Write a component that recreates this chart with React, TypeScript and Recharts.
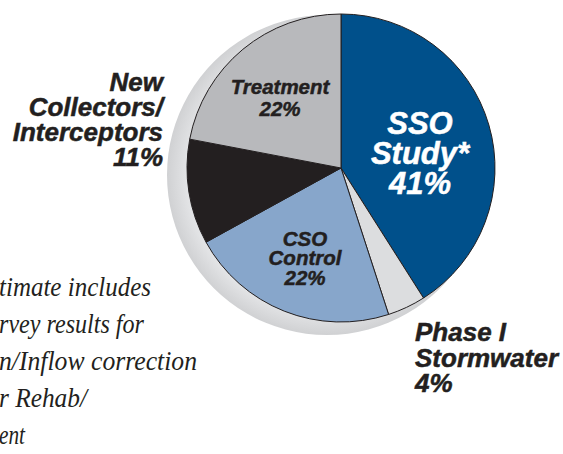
import React from "react";
import { PieChart, Pie, Cell } from "recharts";

const categories = [
  "SSO Study*",
  "Phase I Stormwater",
  "CSO Control",
  "New Collectors/Interceptors",
  "Treatment",
];
const shares = [41, 4, 22, 11, 22];
const labelLines = [
  ["SSO", "Study*", "41%"],
  ["Phase I", "Stormwater", "4%"],
  ["CSO", "Control", "22%"],
  ["New", "Collectors/", "Interceptors", "11%"],
  ["Treatment", "22%"],
];
const footnoteLines = [
  "timate includes",
  "rvey results for",
  "n/Inflow correction",
  "r Rehab/",
  "ent",
];

const COLORS = ["#00508b", "#dcdddf", "#87a6cb", "#231f20", "#b8b9bc"];

// label placement relative to pie centre (first line centre)
const LABEL_STYLE = [
  { dx: 79, dy: -45, size: 31, lh: 30, color: "#ffffff", anchor: "middle" },
  { dx: 74, dy: 164, size: 26, lh: 25.5, color: "#231f20", anchor: "start" },
  { dx: -36, dy: 70, size: 20.5, lh: 19.5, color: "#231f20", anchor: "middle" },
  { dx: -178, dy: -86, size: 26, lh: 25, color: "#231f20", anchor: "end" },
  { dx: -61, dy: -82, size: 20.5, lh: 22, color: "#231f20", anchor: "middle" },
];

const FOOT_WIDTHS = [152, 145, 198, 88, 26];

const data = categories.map((name, i) => ({ name, value: shares[i] }));

const renderLabel = (props: any) => {
  const { cx, cy, index } = props;
  const s = LABEL_STYLE[index];
  return (
    <text
      key={index}
      x={cx + s.dx}
      y={cy + s.dy}
      fill={s.color}
      stroke={s.color}
      strokeWidth={0.5}
      textAnchor={s.anchor}
      fontFamily="'Liberation Sans', Arial, sans-serif"
      fontWeight="bold"
      fontStyle="italic"
      fontSize={s.size}
    >
      {labelLines[index].map((line, j) => (
        <tspan key={j} x={cx + s.dx} y={cy + s.dy + j * s.lh} dominantBaseline="central">
          {line}
        </tspan>
      ))}
    </text>
  );
};

export default function App() {
  return (
    <div style={{ position: "absolute", left: 0, top: 0, width: 563, height: 454, background: "#fff" }}>
      <PieChart width={563} height={454} margin={{ top: 0, right: 0, bottom: 0, left: 0 }}>
        <defs>
          <radialGradient id="shadowGrad" cx="50%" cy="50%" r="50%">
            <stop offset="88%" stopColor="#e2e3e5" />
            <stop offset="100%" stopColor="#d0d1d3" />
          </radialGradient>
        </defs>
        <Pie
          data={[{ name: "shadow", value: 1 }]}
          dataKey="value"
          cx={327}
          cy={175}
          outerRadius={160}
          startAngle={90}
          endAngle={-270}
          stroke="none"
          fill="url(#shadowGrad)"
          isAnimationActive={false}
        />
        <Pie
          data={data}
          dataKey="value"
          cx={341}
          cy={168}
          outerRadius={154}
          startAngle={90}
          endAngle={-270}
          stroke="#231f20"
          strokeWidth={1}
          label={renderLabel}
          labelLine={false}
          isAnimationActive={false}
        >
          {data.map((d, i) => (
            <Cell key={d.name} fill={COLORS[i]} />
          ))}
        </Pie>
        {footnoteLines.map((line, i) => (
          <text
            key={i}
            x={-1}
            y={296 + i * 37}
            fontFamily="'Liberation Serif', 'DejaVu Serif', serif"
            fontStyle="italic"
            fontSize={28}
            fill="#231f20"
            textLength={FOOT_WIDTHS[i]}
            lengthAdjust="spacingAndGlyphs"
          >
            {line}
          </text>
        ))}
      </PieChart>
    </div>
  );
}
